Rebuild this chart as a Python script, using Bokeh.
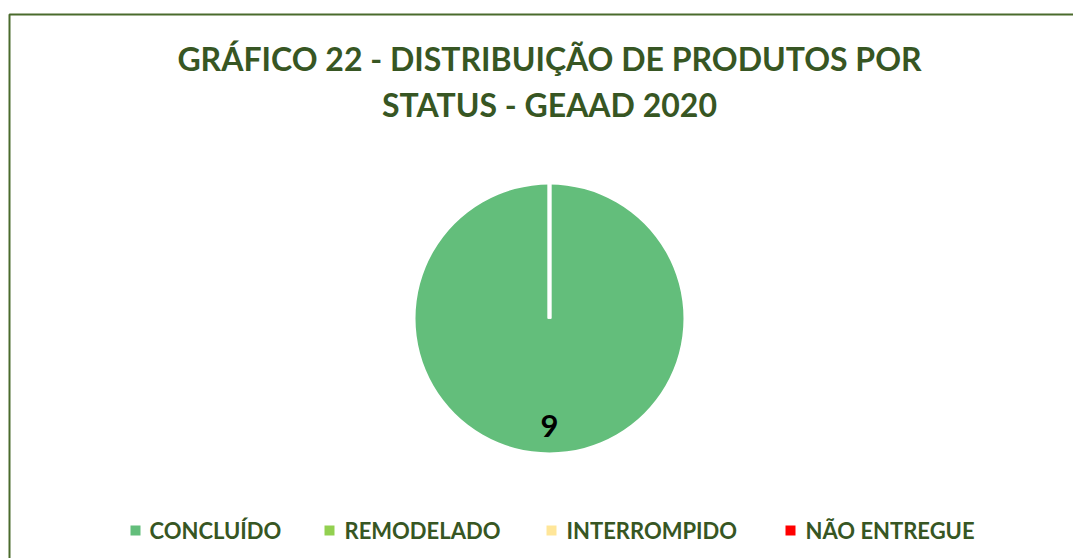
import math
from bokeh.plotting import figure
from bokeh.models import ColumnDataSource, Range1d
from bokeh.core.properties import value
from bokeh.embed import file_html
from bokeh.resources import INLINE

# ---- data ----
categories = ["CONCLUÍDO", "REMODELADO", "INTERROMPIDO", "NÃO ENTREGUE"]
values = [9, 0, 0, 0]
colors = ["#63be7b", "#92d050", "#ffe699", "#ff0000"]
title_lines = ["GRÁFICO 22 - DISTRIBUIÇÃO DE PRODUTOS POR", "STATUS - GEAAD 2020"]

# ---- layout (pixel units: data coords == pixels) ----
W, H = 1073, 558
TXT = "#375623"
FONT = "Lato"
cx, cy, r = 549, 240, 134
legend_sq_x = [135, 329, 551, 790]
legend_tx_x = [149, 344, 566, 805]
legend_y = 28

p = figure(width=W, height=H, output_backend="svg", toolbar_location=None,
           x_range=Range1d(0, W), y_range=Range1d(0, H), min_border=0,
           background_fill_color="white", border_fill_color="white")
p.axis.visible = False
p.grid.visible = False
p.outline_line_color = None

# chart border (left + top visible, extends past window)
p.line(x=[9, 9, W + 10], y=[-10, 544, 544], line_color="#4a6b2c", line_width=2)

# title
p.text(x=[cx, cx], y=[500, 454], text=title_lines,
       text_font=value(FONT), text_font_style="bold", text_font_size="32px",
       text_color=TXT, text_align="center", text_baseline="middle")

# pie
total = sum(values)
starts, ends, cum = [], [], 0.0
for v in values:
    a0 = math.pi / 2 - 2 * math.pi * cum / total
    cum += v
    a1 = math.pi / 2 - 2 * math.pi * cum / total
    starts.append(a0)
    ends.append(a1)
nz = [i for i, v in enumerate(values) if v > 0]
EPS = 1e-4  # keep a full-circle slice from collapsing to an empty arc
src = ColumnDataSource(dict(cat=[categories[i] for i in nz],
                            val=[values[i] for i in nz],
                            color=[colors[i] for i in nz],
                            start=[starts[i] for i in nz],
                            end=[ends[i] + EPS for i in nz]))
p.wedge(x=cx, y=cy, radius=r, start_angle="start", end_angle="end",
        direction="clock", fill_color="color", line_color=None, source=src)

# slice borders (white radial lines at each slice boundary)
bx = [cx + (r + 1) * math.cos(a) for a in starts]
by = [cy + (r + 1) * math.sin(a) for a in starts]
p.segment(x0=[cx] * len(bx), y0=[cy] * len(by), x1=bx, y1=by,
          line_color="white", line_width=3.5)

# data labels
lx, ly, lt = [], [], []
for v, a0, a1 in zip(values, starts, ends):
    if v > 0:
        m = (a0 + a1) / 2
        lx.append(cx + 0.8 * r * math.cos(m))
        ly.append(cy + 0.8 * r * math.sin(m))
        lt.append(str(v))
p.text(x=lx, y=ly, text=lt, text_font=value(FONT), text_font_style="bold",
       text_font_size="31px", text_color="black", text_align="center",
       text_baseline="middle")

# legend
p.scatter(x=legend_sq_x, y=[legend_y] * 4, marker="square", size=10,
          fill_color=colors, line_color=None)
p.text(x=legend_tx_x, y=[legend_y] * 4, text=categories,
       text_font=value(FONT), text_font_style="bold", text_font_size="22px",
       text_color=TXT, text_align="left", text_baseline="middle")

open("out.html", "w").write(file_html(p, INLINE))
